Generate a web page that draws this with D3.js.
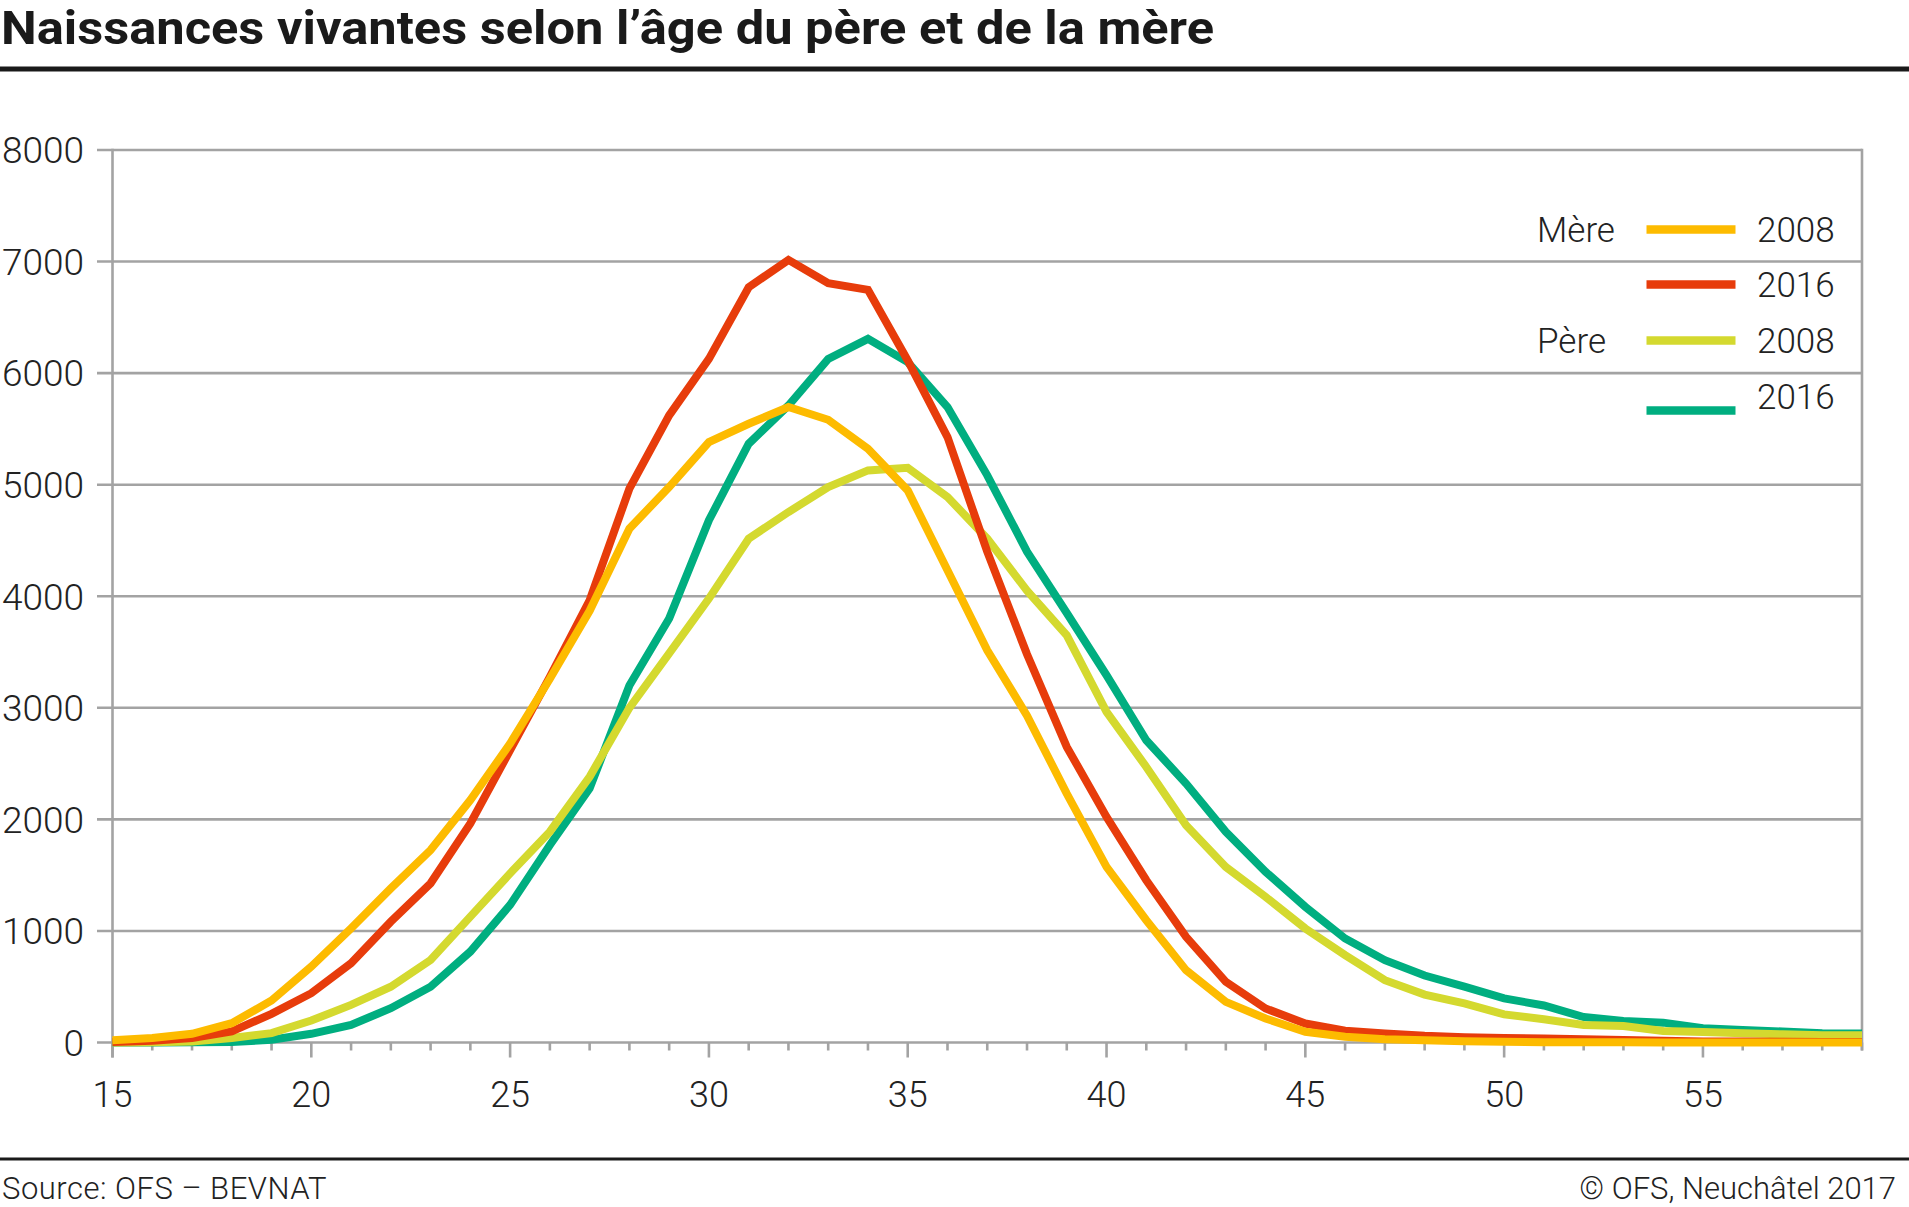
<!DOCTYPE html>
<html>
<head>
<meta charset="utf-8">
<script src="https://cdn.jsdelivr.net/npm/d3@7"></script>
<style>
  html, body { margin: 0; padding: 0; background: #fff; }
  svg { display: block; }
  text { font-family: Roboto, "Noto Sans", sans-serif; fill: #222; }
</style>
</head>
<body>
<svg id="chart" width="1909" height="1207"></svg>
<script>
// ---- Data ----
const ages = d3.range(15, 60); // 15..59
const mere2008 = [20,40,78,173,376,680,1024,1382,1725,2173,2680,3260,3870,4606,4979,5382,5546,5696,5582,5322,4949,4233,3516,2930,2231,1574,1096,648,364,215,96,51,30,21,12,6,3,2,2,1,1,1,0,0,0];
const mere2016 = [5,15,40,100,257,442,710,1083,1427,1964,2620,3278,3964,4964,5621,6128,6770,7015,6806,6746,6113,5427,4400,3480,2650,2022,1455,947,544,305,170,105,81,60,48,40,35,30,22,15,10,8,6,5,4];
const pere2008 = [0,2,10,40,84,197,337,500,740,1128,1516,1890,2382,3000,3487,3979,4516,4755,4979,5128,5152,4890,4516,4050,3650,2963,2470,1948,1574,1305,1022,783,559,430,350,252,208,157,148,104,95,83,74,65,65];
const pere2016 = [0,0,2,5,24,78,158,307,500,815,1233,1770,2278,3200,3800,4681,5367,5710,6128,6307,6099,5696,5084,4400,3850,3292,2709,2321,1888,1530,1216,932,738,600,500,395,332,228,193,178,128,113,98,83,80];

const yTicks = [0,1000,2000,3000,4000,5000,6000,7000,8000];
const xLabelTicks = [15,20,25,30,35,40,45,50,55];

const seriesNames = ["Père 2016","Père 2008","Mère 2016","Mère 2008"];
const seriesColors = ["#00ae80","#d4d92f","#e73c0b","#fdbb00"];
const seriesValues = [pere2016, pere2008, mere2016, mere2008];

const legendGroups = ["Mère","","Père",""];
const legendYears = ["2008","2016","2008","2016"];
const legendColors = ["#fdbb00","#e73c0b","#d4d92f","#00ae80"];

const title = "Naissances vivantes selon l’âge du père et de la mère";
const sourceText = "Source: OFS – BEVNAT";
const copyText = "© OFS, Neuchâtel 2017";

// ---- Drawing ----
const svg = d3.select("#chart");
const W = 1909;
const grid = "#a3a3a3";

const x = d3.scaleLinear().domain([15, 59]).range([112.5, 1862]);
const y = d3.scaleLinear().domain([0, 8000]).range([1042.5, 150]);

// Title
svg.append("text")
  .attr("x", 1).attr("y", 44)
  .attr("font-size", 47).attr("font-weight", 700)
  .attr("textLength", 1213).attr("lengthAdjust", "spacingAndGlyphs")
  .style("fill", "#1a1a1a")
  .text(title);
svg.append("rect").attr("x", 0).attr("y", 66.5).attr("width", W).attr("height", 5).attr("fill", "#1a1a1a");

// Gridlines
svg.append("g").selectAll("line").data(yTicks).join("line")
  .attr("x1", 97).attr("x2", x(59))
  .attr("y1", d => y(d)).attr("y2", d => y(d))
  .attr("stroke", grid).attr("stroke-width", 2.6);

// Y labels
svg.append("g").selectAll("text").data(yTicks).join("text")
  .attr("x", 84).attr("y", d => y(d)).attr("dy", "0.36em")
  .attr("text-anchor", "end").attr("font-size", 37).attr("font-weight", 300)
  .text(d => d);

// Left & right axes
svg.append("line").attr("x1", x(15)).attr("x2", x(15)).attr("y1", y(8000) - 1.3).attr("y2", y(0) + 15)
  .attr("stroke", grid).attr("stroke-width", 2.6);
svg.append("line").attr("x1", x(59)).attr("x2", x(59)).attr("y1", y(8000) - 1.3).attr("y2", y(0) + 8)
  .attr("stroke", grid).attr("stroke-width", 2.6);

// X ticks
svg.append("g").selectAll("line").data(ages).join("line")
  .attr("x1", d => x(d)).attr("x2", d => x(d))
  .attr("y1", y(0)).attr("y2", d => y(0) + (d % 5 === 0 ? 15 : 8))
  .attr("stroke", grid).attr("stroke-width", 2.6);

// X labels
svg.append("g").selectAll("text").data(xLabelTicks).join("text")
  .attr("x", d => x(d)).attr("y", 1107)
  .attr("text-anchor", "middle").attr("font-size", 36).attr("font-weight", 300)
  .text(d => d);

// Lines
const line = d3.line().x((d, i) => x(ages[i])).y(d => y(d));
svg.append("g").selectAll("path").data(seriesValues).join("path")
  .attr("d", d => line(d))
  .attr("fill", "none")
  .attr("stroke", (d, i) => seriesColors[i])
  .attr("stroke-width", 8)
  .attr("stroke-linejoin", "miter")
  .attr("stroke-linecap", "butt");

// Legend
const legLineY = [229.5, 284.5, 340.5, 410.5];
const legTextY = [242, 297, 353, 408.5];
const lg = svg.append("g");
lg.selectAll("line").data(legendColors).join("line")
  .attr("x1", 1646.5).attr("x2", 1735.5)
  .attr("y1", (d, i) => legLineY[i]).attr("y2", (d, i) => legLineY[i])
  .attr("stroke", d => d).attr("stroke-width", 8.5);
lg.selectAll("text.year").data(legendYears).join("text").attr("class", "year")
  .attr("x", 1757).attr("y", (d, i) => legTextY[i])
  .attr("font-size", 35).attr("font-weight", 300)
  .text(d => d);
lg.selectAll("text.grp").data(legendGroups).join("text").attr("class", "grp")
  .attr("x", 1537).attr("y", (d, i) => legTextY[i])
  .attr("font-size", 35).attr("font-weight", 300)
  .text(d => d);

// Footer
svg.append("rect").attr("x", 0).attr("y", 1157.5).attr("width", W).attr("height", 3).attr("fill", "#1a1a1a");
svg.append("text").attr("x", 2).attr("y", 1199)
  .attr("font-size", 31).attr("font-weight", 300).attr("letter-spacing", 0.5).text(sourceText);
svg.append("text").attr("x", 1896).attr("y", 1199).attr("text-anchor", "end")
  .attr("font-size", 31).attr("font-weight", 300).text(copyText);
</script>
</body>
</html>
